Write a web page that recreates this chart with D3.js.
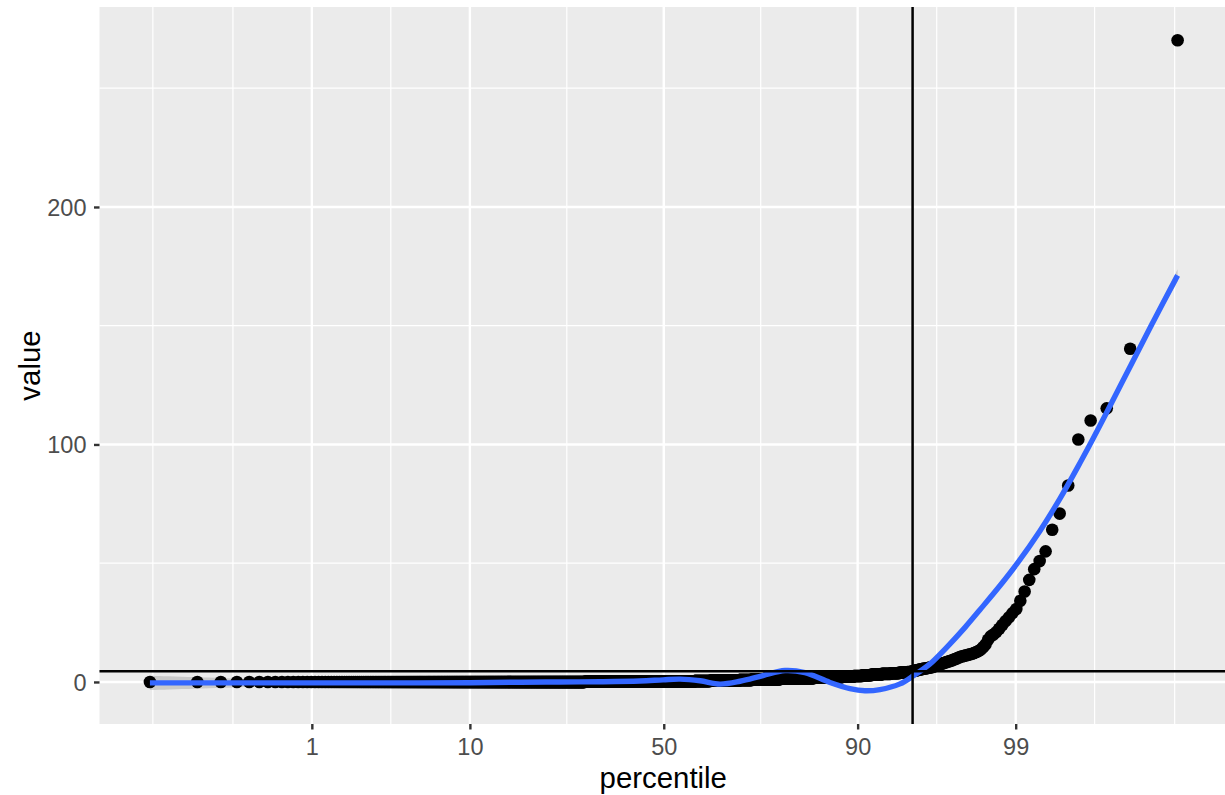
<!DOCTYPE html>
<html>
<head>
<meta charset="utf-8">
<script src="https://cdn.jsdelivr.net/npm/d3@7"></script>
<style>
  html, body { margin: 0; background: #ffffff; }
  svg { display: block; font-family: "Liberation Sans", Arial, Helvetica, sans-serif; }
</style>
</head>
<body>
<svg id="chart" width="1225" height="795"></svg>
<script>
// ---- data -------------------------------------------------------------
// Sorted observations: the bulk is kept as a frequency table (value level, count),
// the upper tail as individual values (ascending).
const bulkLevels = [0, 0.1, 0.2, 0.3, 0.4, 0.5, 0.6, 0.8, 1.0, 1.2, 1.4, 1.6, 1.8, 2.0, 2.2, 2.5, 2.8, 3.1, 3.4, 3.7, 4.0, 4.2];
const bulkCounts = [440, 176, 146, 88, 59, 59, 44, 43, 37, 51, 44, 44, 37, 22, 22, 15, 14, 15, 12, 10, 9, 4];
const tailValues = [
  4.4, 4.5, 4.6, 4.7, 4.8, 4.9, 5.0, 5.1, 5.2, 5.3, 5.4, 5.5, 5.6, 5.7, 5.8, 5.9, 6.0, 6.1, 6.2, 6.3,
  6.5, 6.7, 6.9, 7.1, 7.3, 7.5, 7.7, 7.9, 8.1, 8.3, 8.5, 8.7, 8.9, 9.1, 9.4, 9.7, 10.0, 10.3, 10.6,
  10.8, 11.0, 11.2, 11.4, 11.6, 11.9, 12.2, 12.6, 13.0, 13.6, 14.6, 15.8, 17.8, 19.2, 20.0, 21.0,
  22.4, 24.0, 25.6, 27.2, 29.0, 30.7, 34.2, 38.1, 43.0, 47.5, 50.9, 55.0, 64.1, 70.9, 82.7,
  102.1, 110.1, 115.2, 140.3, 270.2
];

// Smoothed fit (percentile, fitted value, band half-width)
const smoothPct = [0.0341, 0.223, 1.0, 3.52, 10.0, 17.1, 24.6, 33.7, 43.7, 49.8, 54.3, 59.5, 64.5, 69.3,
  74.4, 78.85, 82.47, 86.4, 89.08, 90.82, 92.35, 94.08, 95.03, 96.08, 96.94, 97.68, 98.17, 98.69,
  99.017, 99.355, 99.559, 99.703, 99.772, 99.851, 99.8994, 99.9389, 99.9659];
const smoothFit = [-0.4, -0.4, -0.4, -0.4, -0.3, -0.1, 0.0, 0.1, 0.4, 0.9, 1.2, 0.5, -0.9, 0.3,
  2.7, 4.8, 3.9, -0.2, -2.8, -3.7, -3.2, -0.8, 2.5, 7.6, 14.7, 23.0, 30.4, 40.6,
  49.6, 63.6, 77.2, 92.2, 102.3, 118.7, 133.5, 151.5, 171.2];
const smoothSe = [3.0, 1.9, 1.0, 0.7, 0.6, 0.6, 0.6, 0.6, 0.6, 0.6, 0.6, 0.6, 0.6, 0.6,
  0.6, 0.6, 0.6, 0.6, 0.7, 0.7, 0.7, 0.7, 0.7, 0.8, 0.8, 0.9, 0.9, 1.0,
  1.0, 1.1, 1.1, 1.2, 1.2, 1.3, 1.4, 1.7, 2.6];

// Axis breaks
const xMajorBreaks = [1, 10, 50, 90, 99];
const xMajorLabels = ["1", "10", "50", "90", "99"];
const xMinorBreaks = [0.0366, 0.22, 3.56, 26.08, 73.92, 96.44, 99.78, 99.9634];
const yMajorBreaks = [0, 100, 200];
const yMajorLabels = ["0", "100", "200"];
const yMinorBreaks = [50, 150, 250];
const cutPercentile = 95;

// ---- helpers ----------------------------------------------------------
// Inverse standard normal CDF (Acklam's rational approximation)
function qnorm(p) {
  const a = [-3.969683028665376e+01, 2.209460984245205e+02, -2.759285104469687e+02,
             1.383577518672690e+02, -3.066479806614716e+01, 2.506628277459239e+00];
  const b = [-5.447609879822406e+01, 1.615858368580409e+02, -1.556989798598866e+02,
             6.680131188771972e+01, -1.328068155288572e+01];
  const c = [-7.784894002430293e-03, -3.223964580411365e-01, -2.400758277161838e+00,
             -2.549732539343734e+00, 4.374664141464968e+00, 2.938163982698783e+00];
  const d = [7.784695709041462e-03, 3.224671290700398e-01, 2.445134137142996e+00,
             3.754408661907416e+00];
  const plow = 0.02425, phigh = 1 - plow;
  if (p < plow) {
    const q = Math.sqrt(-2 * Math.log(p));
    return (((((c[0]*q + c[1])*q + c[2])*q + c[3])*q + c[4])*q + c[5]) /
           ((((d[0]*q + d[1])*q + d[2])*q + d[3])*q + 1);
  }
  if (p <= phigh) {
    const q = p - 0.5, r = q * q;
    return (((((a[0]*r + a[1])*r + a[2])*r + a[3])*r + a[4])*r + a[5]) * q /
           (((((b[0]*r + b[1])*r + b[2])*r + b[3])*r + b[4])*r + 1);
  }
  const q = Math.sqrt(-2 * Math.log(1 - p));
  return -(((((c[0]*q + c[1])*q + c[2])*q + c[3])*q + c[4])*q + c[5]) /
          ((((d[0]*q + d[1])*q + d[2])*q + d[3])*q + 1);
}

// Expand the sorted sample and attach plotting-position percentiles
const values = [];
bulkLevels.forEach((v, k) => { for (let i = 0; i < bulkCounts[k]; i++) values.push(v); });
tailValues.forEach(v => values.push(v));
const n = values.length;
const points = values.map((v, i) => ({ pct: 100 * (i + 0.5) / n, value: v }));
const cutValue = d3.quantile(values, cutPercentile / 100);

const smooth = smoothPct.map((p, i) => ({ pct: p, fit: smoothFit[i], se: smoothSe[i] }));

// ---- layout & scales --------------------------------------------------
const panel = { left: 99.5, right: 1225, top: 7, bottom: 724 };
const svg = d3.select("#chart");

const xz = d3.scaleLinear().domain([-3.73, 3.71]).range([panel.left, panel.right]);
const px = pct => xz(qnorm(pct / 100));
const y = d3.scaleLinear().domain([-17.7, 284.2]).range([panel.bottom, panel.top]);

const lineMajor = 2.4, lineMinor = 1.2;

// panel background
svg.append("rect")
  .attr("x", panel.left).attr("y", panel.top)
  .attr("width", panel.right - panel.left).attr("height", panel.bottom - panel.top)
  .attr("fill", "#EBEBEB");

const grid = svg.append("g");
grid.selectAll("line.ymin").data(yMinorBreaks).join("line")
  .attr("x1", panel.left).attr("x2", panel.right)
  .attr("y1", d => y(d)).attr("y2", d => y(d))
  .attr("stroke", "#ffffff").attr("stroke-width", lineMinor);
grid.selectAll("line.xmin").data(xMinorBreaks).join("line")
  .attr("x1", d => px(d)).attr("x2", d => px(d))
  .attr("y1", panel.top).attr("y2", panel.bottom)
  .attr("stroke", "#ffffff").attr("stroke-width", lineMinor);
grid.selectAll("line.ymaj").data(yMajorBreaks).join("line")
  .attr("x1", panel.left).attr("x2", panel.right)
  .attr("y1", d => y(d)).attr("y2", d => y(d))
  .attr("stroke", "#ffffff").attr("stroke-width", lineMajor);
grid.selectAll("line.xmaj").data(xMajorBreaks).join("line")
  .attr("x1", d => px(d)).attr("x2", d => px(d))
  .attr("y1", panel.top).attr("y2", panel.bottom)
  .attr("stroke", "#ffffff").attr("stroke-width", lineMajor);

// confidence band of the smoother
svg.append("path")
  .datum(smooth)
  .attr("d", d3.area()
    .x(d => px(d.pct))
    .y0(d => y(d.fit - d.se))
    .y1(d => y(d.fit + d.se))
    .curve(d3.curveCatmullRom.alpha(0.5)))
  .attr("fill", "#999999").attr("fill-opacity", 0.4);

// observations
svg.append("g").selectAll("circle").data(points).join("circle")
  .attr("cx", d => px(d.pct))
  .attr("cy", d => y(d.value))
  .attr("r", 6.3)
  .attr("fill", "#000000");

// smoother
svg.append("path")
  .datum(smooth)
  .attr("d", d3.line().x(d => px(d.pct)).y(d => y(d.fit)).curve(d3.curveCatmullRom.alpha(0.5)))
  .attr("fill", "none").attr("stroke", "#3366FF").attr("stroke-width", 5.4);

// 95th percentile reference lines
svg.append("line")
  .attr("x1", panel.left).attr("x2", panel.right)
  .attr("y1", y(cutValue)).attr("y2", y(cutValue))
  .attr("stroke", "#000000").attr("stroke-width", 2.5);
svg.append("line")
  .attr("x1", px(cutPercentile)).attr("x2", px(cutPercentile))
  .attr("y1", panel.top).attr("y2", panel.bottom)
  .attr("stroke", "#000000").attr("stroke-width", 2.5);

// ---- axes ------------------------------------------------------------
const xAxis = d3.axisBottom(xz)
  .tickValues(xMajorBreaks.map(p => qnorm(p / 100)))
  .tickFormat((d, i) => xMajorLabels[i])
  .tickSize(5.5).tickPadding(8.5);
const gx = svg.append("g").attr("transform", `translate(0,${panel.bottom})`).call(xAxis);
gx.select(".domain").remove();
gx.selectAll(".tick line").attr("stroke", "#333333").attr("stroke-width", lineMajor);
gx.selectAll(".tick text").attr("fill", "#4D4D4D").style("font-size", "23.5px")
  .style("font-family", '"Liberation Sans", Arial, sans-serif');

const yAxis = d3.axisLeft(y)
  .tickValues(yMajorBreaks)
  .tickFormat((d, i) => yMajorLabels[i])
  .tickSize(5.5).tickPadding(7.5);
const gy = svg.append("g").attr("transform", `translate(${panel.left},0)`).call(yAxis);
gy.select(".domain").remove();
gy.selectAll(".tick line").attr("stroke", "#333333").attr("stroke-width", lineMajor);
gy.selectAll(".tick text").attr("fill", "#4D4D4D").attr("dy", "0.36em").style("font-size", "23.5px")
  .style("font-family", '"Liberation Sans", Arial, sans-serif');

// axis titles
svg.append("text")
  .attr("x", (panel.left + panel.right) / 2 + 1).attr("y", 788)
  .attr("text-anchor", "middle")
  .style("font-size", "29.4px").attr("fill", "#000000")
  .text("percentile");
svg.append("text")
  .attr("transform", `translate(40,${(panel.top + panel.bottom) / 2}) rotate(-90)`)
  .attr("text-anchor", "middle")
  .style("font-size", "29.4px").attr("fill", "#000000")
  .text("value");
</script>
</body>
</html>
